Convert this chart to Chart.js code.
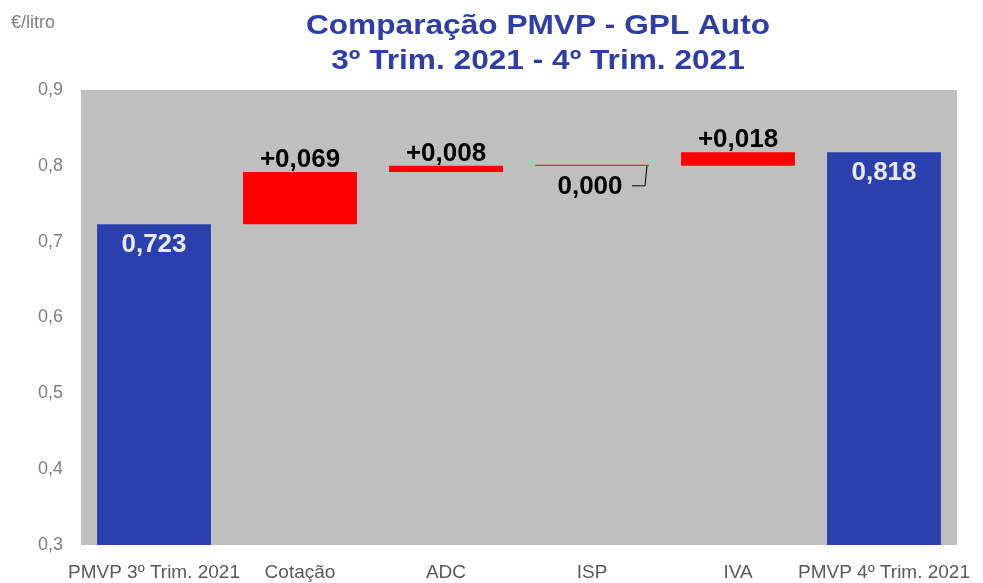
<!DOCTYPE html>
<html>
<head>
<meta charset="utf-8">
<script src="https://cdn.jsdelivr.net/npm/chart.js@4/dist/chart.umd.min.js"></script>
<style>
  html, body { margin: 0; padding: 0; background: #fff; }
  #wrap { width: 983px; height: 583px; position: relative; }
</style>
</head>
<body>
<div id="wrap"><canvas id="myChart" width="983" height="583"></canvas></div>
<script>
var blue = "#2B40AE";
var red = "#FF0000";
var plotGray = "#BFBFBF";
var sans = "'Liberation Sans', Arial, sans-serif";

var titleLines = ["Comparação PMVP - GPL Auto", "3º Trim. 2021 - 4º Trim. 2021"];
var unitLabel = "€/litro";
var categories = ["PMVP 3º Trim. 2021", "Cotação", "ADC", "ISP", "IVA", "PMVP 4º Trim. 2021"];
var startValue = 0.723;
var deltas = [0.069, 0.008, 0.000, 0.018];
var endValue = 0.818;
var yTicks = [0.3, 0.4, 0.5, 0.6, 0.7, 0.8, 0.9];

function fmt(v, d) {
    return v.toFixed(d).replace(".", ",");
}

// build floating bars from the values
var bars = [[0, startValue]];
var barColors = [blue];
var valueLabels = [fmt(startValue, 3)];
var running = startValue;
deltas.forEach(function (d) {
    bars.push([running, running + d]);
    barColors.push(red);
    valueLabels.push(d > 0 ? "+" + fmt(d, 3) : fmt(d, 3));
    running += d;
});
bars.push([0, endValue]);
barColors.push(blue);
valueLabels.push(fmt(endValue, 3));

var plotBg = {
    id: "plotBg",
    beforeDraw: function (chart) {
        var a = chart.chartArea, ctx = chart.ctx;
        ctx.save();
        ctx.fillStyle = plotGray;
        ctx.fillRect(a.left, a.top, a.right - a.left, a.bottom - a.top);
        ctx.restore();
    }
};

// title is drawn a bit stretched, like the original
function wideText(ctx, txt, x, y, sx) {
    ctx.save();
    ctx.translate(x, y);
    ctx.scale(sx, 1);
    ctx.fillText(txt, 0, 0);
    ctx.restore();
}

var headings = {
    id: "headings",
    afterDraw: function (chart) {
        var ctx = chart.ctx;
        ctx.save();
        ctx.fillStyle = "#2E3DA8";
        ctx.font = "bold 28px " + sans;
        ctx.textAlign = "center";
        ctx.textBaseline = "alphabetic";
        wideText(ctx, titleLines[0], 538, 34, 1.13);
        wideText(ctx, titleLines[1], 538, 69, 1.13);
        ctx.fillStyle = "#7F7F7F";
        ctx.font = "18px " + sans;
        ctx.textAlign = "left";
        ctx.textBaseline = "middle";
        ctx.fillText(unitLabel, 11, 23);
        ctx.restore();
    }
};

var barLabels = {
    id: "barLabels",
    afterDatasetsDraw: function (chart) {
        var ctx = chart.ctx;
        var meta = chart.getDatasetMeta(0);
        ctx.save();
        ctx.textAlign = "center";
        ctx.textBaseline = "middle";
        ctx.font = "bold 26px " + sans;
        meta.data.forEach(function (el, i) {
            var txt = valueLabels[i];
            if (barColors[i] == blue) {
                ctx.fillStyle = "#E8E8E8";
                ctx.fillText(txt, el.x, el.y + 21);
            } else if (deltas[i - 1] == 0) {
                ctx.fillStyle = "#000";
                ctx.fillText(txt, el.x - 2, el.y + 22);
                // leader line
                ctx.strokeStyle = "#000";
                ctx.lineWidth = 1;
                ctx.beginPath();
                ctx.moveTo(el.x + 40, el.y + 21);
                ctx.lineTo(el.x + 53, el.y + 21);
                ctx.lineTo(el.x + 55, el.y + 1);
                ctx.stroke();
            } else {
                ctx.fillStyle = "#000";
                ctx.fillText(txt, el.x, el.y - 12);
            }
        });
        ctx.restore();
    }
};

new Chart("myChart", {
    type: "bar",
    data: {
        labels: categories,
        datasets: [
            {
                data: bars,
                backgroundColor: barColors,
                borderWidth: 0,
                minBarLength: 1,
                categoryPercentage: 1,
                barPercentage: 0.78,
            },
        ],
    },
    options: {
        responsive: false,
        animation: false,
        events: [],
        layout: { padding: { top: 90, right: 26, left: 0, bottom: 0 } },
        plugins: {
            legend: { display: false },
            title: { display: false },
            tooltip: { enabled: false },
        },
        scales: {
            x: {
                grid: { display: false },
                border: { display: false },
                ticks: {
                    color: "#595959",
                    font: { family: sans, size: 19 },
                    maxRotation: 0,
                    autoSkip: false,
                    padding: 8,
                },
                afterFit: function (scale) { scale.height = 38; },
            },
            y: {
                min: 0.3,
                max: 0.9,
                grid: { display: false },
                border: { display: false },
                afterBuildTicks: function (scale) {
                    scale.ticks = yTicks.map(function (v) { return { value: v }; });
                },
                ticks: {
                    color: "#808080",
                    font: { family: sans, size: 18 },
                    padding: 10,
                    callback: function (v) { return fmt(v, 1); },
                },
                afterFit: function (scale) { scale.width = 81; },
            },
        },
    },
    plugins: [plotBg, headings, barLabels],
});
</script>
</body>
</html>
